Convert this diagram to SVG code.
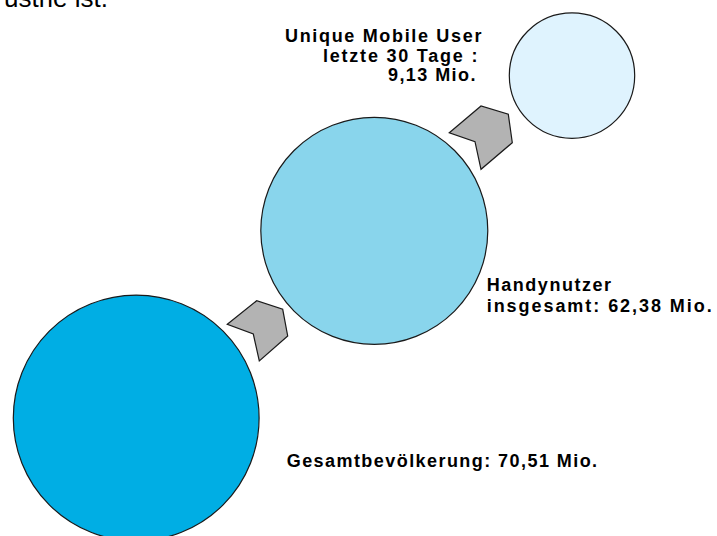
<svg xmlns="http://www.w3.org/2000/svg" width="717" height="536" viewBox="0 0 717 536">
<style>
.c{stroke:#1a1a1a;stroke-width:1.2}
.ar{fill:#b3b3b3;stroke:#1a1a1a;stroke-width:1.2;stroke-linejoin:miter}
.lb{font-family:"Liberation Sans",Arial,sans-serif;font-weight:bold;font-size:18px;letter-spacing:1.6px;fill:#000}
.top{font-family:"Liberation Sans",Arial,sans-serif;font-size:26px;fill:#000}
</style>
<rect width="717" height="536" fill="#fff"/>
<text class="top" x="108" y="7" text-anchor="end">ustrie ist.</text>
<g id="connectors">
<polygon class="ar" points="227.3,324.3 256.7,300.7 282.7,309.3 287.7,336 259.3,361 253.3,334"/>
<polygon class="ar" points="449.3,132.7 481,106 508.3,114.3 512.3,142.7 481,169.3 475,141.7"/>
</g>
<g id="gesamt">
<circle class="c" cx="136.2" cy="418" r="122.9" fill="#00aee4"/>
<text class="lb" x="286.7" y="467" textLength="312" lengthAdjust="spacing">Gesamtbevölkerung: 70,51 Mio.</text>
</g>
<g id="handy">
<circle class="c" cx="374.3" cy="230.8" r="113.5" fill="#89d5ec"/>
<text class="lb" x="486.7" y="291" textLength="126" lengthAdjust="spacing">Handynutzer</text>
<text class="lb" x="486.7" y="312" textLength="226.6" lengthAdjust="spacing">insgesamt: 62,38 Mio.</text>
</g>
<g id="unique">
<circle class="c" cx="572" cy="75.6" r="62.7" fill="#dff3fe"/>
<text class="lb" x="285" y="42" textLength="198" lengthAdjust="spacing">Unique Mobile User</text>
<text class="lb" x="323" y="62" textLength="156" lengthAdjust="spacing">letzte 30 Tage :</text>
<text class="lb" x="388" y="81" textLength="89" lengthAdjust="spacing">9,13 Mio.</text>
</g>
</svg>
